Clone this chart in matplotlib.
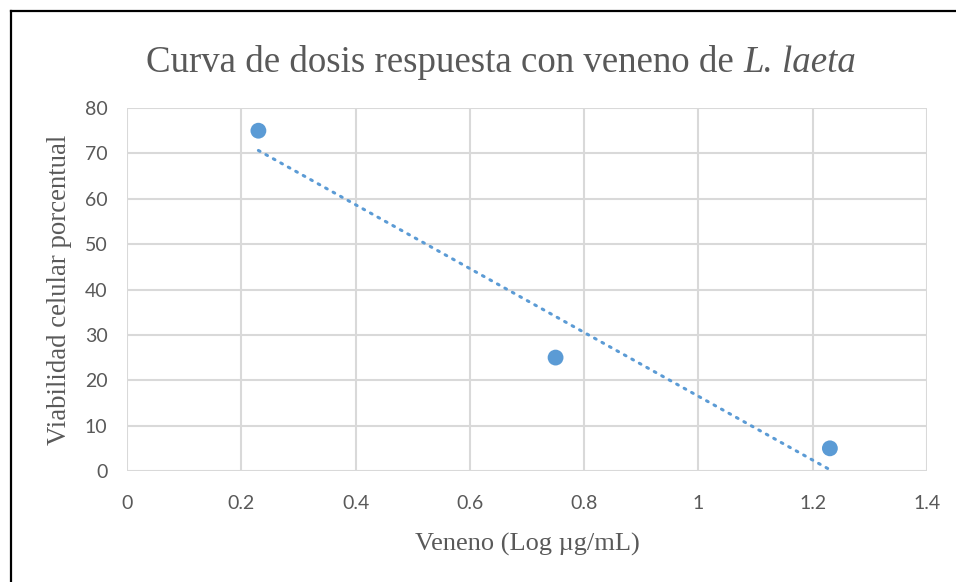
import numpy as np
import matplotlib
matplotlib.use("Agg")
import matplotlib.pyplot as plt
from matplotlib.lines import Line2D

# data
dose_log = [0.23, 0.75, 1.23]
viability = [75, 25, 5]
x_ticks = [0, 0.2, 0.4, 0.6, 0.8, 1, 1.2, 1.4]
x_ticklabels = ["0", "0.2", "0.4", "0.6", "0.8", "1", "1.2", "1.4"]
y_ticks = [0, 10, 20, 30, 40, 50, 60, 70, 80]

blue = "#5B9BD5"
grey_grid = "#D9D9D9"
grey_text = "#595959"

fig = plt.figure(figsize=(9.56, 5.82), dpi=100)
ax = fig.add_axes([0.1328, 0.1907, 0.8369, 0.6237])

# linear trendline (excel style, over the data range)
slope, icpt = np.polyfit(dose_log, viability, 1)
xt = np.array([min(dose_log), max(dose_log)])
ax.plot(xt, slope * xt + icpt, color=blue, linewidth=2.2, linestyle=(0, (0.6, 2.2)),
        dash_capstyle="round", zorder=3)

ax.scatter(dose_log, viability, s=130, color=blue, zorder=4, edgecolors="none")

ax.set_xlim(0, 1.4)
ax.set_ylim(0, 80)
ax.set_xticks(x_ticks)
ax.set_xticklabels(x_ticklabels)
ax.set_yticks(y_ticks)
ax.grid(True, color=grey_grid, linewidth=1.5)
ax.set_axisbelow(True)
for s in ax.spines.values():
    s.set_visible(False)
ax.tick_params(length=0, labelsize=14, labelcolor=grey_text)
for lab in ax.get_xticklabels() + ax.get_yticklabels():
    lab.set_fontfamily("Lato")
ax.tick_params(axis="x", pad=17)
ax.tick_params(axis="y", pad=14)

ax.set_xlabel("Veneno (Log µg/mL)", fontfamily="Liberation Serif", fontsize=19,
              color=grey_text, labelpad=15)
ax.set_ylabel("Viabilidad celular porcentual", fontfamily="Liberation Serif", fontsize=19.3,
              color=grey_text, labelpad=9)

# title: upright part + italic species name, centred together
title_y = 0.876
t1 = fig.text(0, title_y, "Curva de dosis respuesta con veneno de ", ha="left", va="baseline",
              fontsize=26.6, color=grey_text, fontfamily="Liberation Serif")
t2 = fig.text(0, title_y, "L. laeta", ha="left", va="baseline", fontsize=26.6,
              color=grey_text, fontfamily="Liberation Serif", style="italic")
r = fig.canvas.get_renderer()
w1 = t1.get_window_extent(r).width / fig.bbox.width
w2 = t2.get_window_extent(r).width / fig.bbox.width
x0 = 0.524 - (w1 + w2) / 2
t1.set_x(x0)
t2.set_x(x0 + w1)

# outer chart frame (partly cropped in the source)
fig.add_artist(Line2D([0.011, 1.0], [1 - 11 / 582, 1 - 11 / 582], color="black", linewidth=1.6,
                      transform=fig.transFigure))
fig.add_artist(Line2D([0.011, 0.011], [0.0, 1 - 11 / 582], color="black", linewidth=1.6,
                      transform=fig.transFigure))

fig.savefig("out.png", dpi=100)
